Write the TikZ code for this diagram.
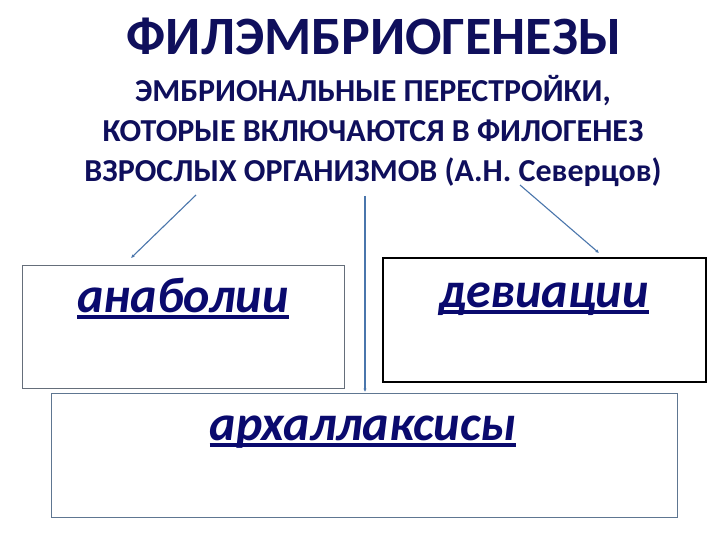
\documentclass[tikz,border=0pt]{standalone}
\usepackage{fontspec}
\setmainfont{Carlito}
\usetikzlibrary{arrows.meta}
\definecolor{navy}{HTML}{0F0F5C}
\definecolor{ink}{HTML}{0A0A6E}
\definecolor{arrowblue}{HTML}{4A76AC}
\definecolor{boxgray}{HTML}{4A5563}
\definecolor{boxblue}{HTML}{5E7691}
\tikzset{
  titletext/.style={text=navy, font=\bfseries\fontsize{54}{60}\selectfont, inner sep=0pt},
  subtext/.style={text=navy, font=\bfseries\fontsize{32}{40}\selectfont, align=center, inner sep=0pt},
  boxframe/.style={draw=boxgray, line width=0.9pt},
  termtext/.style={text=ink, font=\bfseries\itshape\fontsize{50}{56}\selectfont, inner sep=0pt},
  conn/.style={draw=arrowblue, line width=1.1pt, -{Latex[length=3.5pt,width=3.5pt]}}
}
\newcommand{\thickul}[1]{\setbox0\hbox{#1}\rlap{\rule[-7pt]{\wd0}{4pt}}\box0}
\begin{document}
\begin{tikzpicture}[x=1pt,y=-1pt]
\useasboundingbox (0,0) rectangle (720,540);
\fill[white] (0,0) rectangle (720,540);
\node[titletext] (title) at (374,36) {ФИЛЭМБРИОГЕНЕЗЫ};
\node[subtext] (sub) at (373,131) {ЭМБРИОНАЛЬНЫЕ ПЕРЕСТРОЙКИ,\\КОТОРЫЕ ВКЛЮЧАЮТСЯ В ФИЛОГЕНЕЗ\\ВЗРОСЛЫХ ОРГАНИЗМОВ (А.Н. Северцов)};
% boxes
\draw[boxframe, draw=boxgray!85] (22,265) rectangle (344,388);
\draw[boxframe, draw=black, line width=1.2pt] (383,258) rectangle (706,382);
\draw[boxframe, draw=boxblue] (51,393) rectangle (677,517);
\node[termtext, anchor=base] (anab) at (183,312) {\thickul{анаболии}};
\node[termtext, anchor=base] (devi) at (544,307) {\thickul{девиации}};
\node[termtext, anchor=base] (arch) at (363,440) {\thickul{архаллаксисы}};
% connectors
\coordinate (s1) at (196,195);
\coordinate (e1) at (131,258);
\coordinate (s2) at (365,196);
\coordinate (e2) at (365,392);
\coordinate (s3) at (520,185);
\coordinate (e3) at (599,253);
\draw[conn] (s1) -- (e1);
\draw[conn] (s2) -- (e2);
\draw[conn] (s3) -- (e3);
\end{tikzpicture}
\end{document}
